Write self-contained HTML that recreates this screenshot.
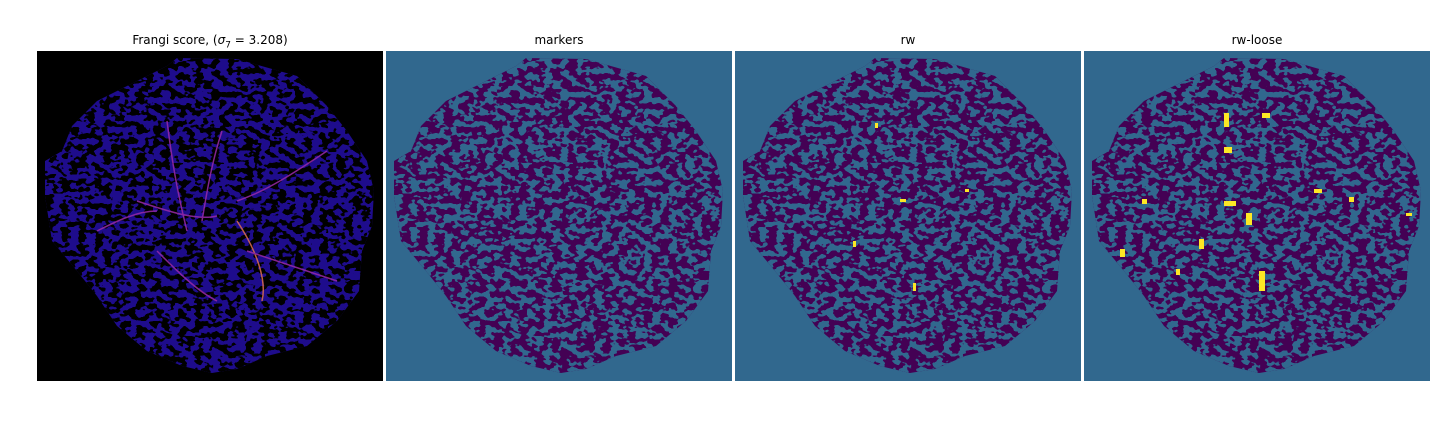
<!DOCTYPE html>
<html><head><meta charset="utf-8">
<style>
body{margin:0;background:#fff;width:1440px;height:432px;position:relative;overflow:hidden;font-family:"DejaVu Sans","Liberation Sans",sans-serif;}
.t{position:absolute;top:33px;width:346px;text-align:center;font-size:12px;color:#000;}
svg.p{position:absolute;top:51px;}
</style></head><body>
<svg width="0" height="0" style="position:absolute">
<defs>
<clipPath id="blob"><path d="M140,7 L200,8 L260,25 L290,55 L310,80 L330,110 L337,140 L335,175 L325,200 L322,240 L300,270 L270,295 L230,305 L200,318 L175,322 L145,315 L110,300 L80,275 L60,245 L40,220 L15,190 L8,145 L8,110 L25,100 L35,75 L60,50 L100,30 L130,15 Z"/></clipPath>
<filter id="noiseTeal" x="0" y="0" width="100%" height="100%" color-interpolation-filters="sRGB">
<feTurbulence type="fractalNoise" baseFrequency="0.12 0.17" numOctaves="2" seed="3"/>
<feColorMatrix type="matrix" values="0 0 0 0 0.192  0 0 0 0 0.408  0 0 0 0 0.557  40 0 0 0 -20"/>
</filter>
<filter id="noiseBlack" x="0" y="0" width="100%" height="100%" color-interpolation-filters="sRGB">
<feTurbulence type="fractalNoise" baseFrequency="0.12 0.17" numOctaves="2" seed="3"/>
<feColorMatrix type="matrix" values="0 0 0 0 0  0 0 0 0 0  0 0 0 0 0  40 0 0 0 -20"/>
</filter>
</defs></svg>

<div class="t" style="left:37px">Frangi score, (<i>σ</i><sub style="font-size:9px">7</sub> = 3.208)</div>
<div class="t" style="left:386px">markers</div>
<div class="t" style="left:735px">rw</div>
<div class="t" style="left:1084px">rw-loose</div>

<svg class="p" style="left:37px" width="346" height="330">
<rect width="346" height="330" fill="#000"/>
<g clip-path="url(#blob)">
<rect width="346" height="330" fill="#1e0c8c"/>
<rect width="346" height="330" filter="url(#noiseBlack)"/>
<g fill="none" stroke="#9a2aa8" stroke-width="1.5" opacity="0.85">
<path d="M130,70 C135,110 140,140 150,180"/><path d="M185,80 C175,110 170,140 165,170"/>
<path d="M100,150 C130,160 160,170 180,165"/><path d="M200,150 C230,140 260,120 290,100"/>
<path d="M120,200 C140,220 160,240 180,250"/><path d="M200,170 C220,200 230,230 225,250" stroke="#e07050"/>
<path d="M60,180 C80,170 100,160 120,160"/><path d="M210,200 C240,210 270,220 300,230"/>
</g></g>
</svg>

<svg class="p" style="left:386px" width="346" height="330">
<rect width="346" height="330" fill="#31688e"/>
<g clip-path="url(#blob)"><rect width="346" height="330" fill="#440154"/><rect width="346" height="330" filter="url(#noiseTeal)"/></g>
</svg>

<svg class="p" style="left:735px" width="346" height="330">
<rect width="346" height="330" fill="#31688e"/>
<g clip-path="url(#blob)"><rect width="346" height="330" fill="#440154"/><rect width="346" height="330" filter="url(#noiseTeal)"/></g>
<g fill="#fde725"><rect x="165" y="148" width="6" height="3"/><rect x="118" y="190" width="3" height="6"/><rect x="178" y="232" width="3" height="8"/><rect x="230" y="138" width="4" height="3"/><rect x="140" y="72" width="3" height="5"/></g>
</svg>

<svg class="p" style="left:1084px" width="346" height="330">
<rect width="346" height="330" fill="#31688e"/>
<g clip-path="url(#blob)"><rect width="346" height="330" fill="#440154"/><rect width="346" height="330" filter="url(#noiseTeal)"/></g>
<g fill="#fde725"><rect x="140" y="62" width="5" height="14"/><rect x="178" y="62" width="8" height="5"/><rect x="140" y="96" width="8" height="6"/><rect x="140" y="150" width="12" height="5"/><rect x="162" y="162" width="6" height="12"/><rect x="115" y="188" width="5" height="10"/><rect x="175" y="220" width="6" height="20"/><rect x="230" y="138" width="8" height="4"/><rect x="58" y="148" width="5" height="5"/><rect x="36" y="198" width="5" height="8"/><rect x="265" y="146" width="5" height="5"/><rect x="322" y="162" width="6" height="3"/><rect x="92" y="218" width="4" height="6"/></g>
</svg>
</body></html>
